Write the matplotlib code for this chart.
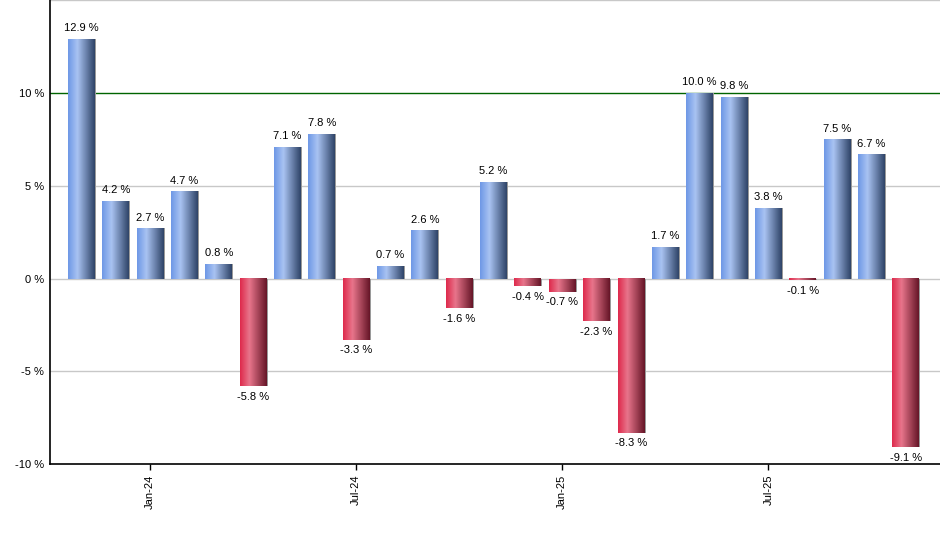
import numpy as np
import matplotlib.pyplot as plt
from matplotlib.colors import LinearSegmentedColormap

months = ["Nov-23", "Dec-23", "Jan-24", "Feb-24", "Mar-24", "Apr-24", "May-24", "Jun-24",
          "Jul-24", "Aug-24", "Sep-24", "Oct-24", "Nov-24", "Dec-24", "Jan-25", "Feb-25",
          "Mar-25", "Apr-25", "May-25", "Jun-25", "Jul-25", "Aug-25", "Sep-25", "Oct-25",
          "Nov-25"]
returns = [12.9, 4.2, 2.7, 4.7, 0.8, -5.8, 7.1, 7.8, -3.3, 0.7, 2.6, -1.6, 5.2,
           -0.4, -0.7, -2.3, -8.3, 1.7, 10.0, 9.8, 3.8, -0.1, 7.5, 6.7, -9.1]
tick_months = ["Jan-24", "Jul-24", "Jan-25", "Jul-25"]

blue_cmap = LinearSegmentedColormap.from_list(
    "blue", [(0, "#6e98e6"), (0.35, "#a9c3f2"), (1, "#2f4468")])
red_cmap = LinearSegmentedColormap.from_list(
    "red", [(0, "#de2a4c"), (0.35, "#e8758b"), (1, "#661628")])

plt.rcParams["font.family"] = ["Liberation Sans", "DejaVu Sans"]

fig = plt.figure(figsize=(9.4, 5.5), dpi=100)
ax = fig.add_axes([0.053, 0.156, 0.947, 0.844])

x = np.arange(len(returns))
width = 0.78
grad = np.linspace(0, 1, 64).reshape(1, -1)

ax.set_xlim(-0.92, len(returns))
ax.set_ylim(-10, 15)

for xi, v in zip(x, returns):
    cmap = blue_cmap if v >= 0 else red_cmap
    # soft shadow on the right edge
    ax.bar(xi + 0.035, v, width=width, color="#9a9a9a", zorder=2)
    ax.imshow(grad, cmap=cmap, aspect="auto", interpolation="bilinear",
              extent=(xi - width / 2, xi + width / 2, 0, v), zorder=3)
    if v >= 0:
        ax.annotate(f"{v:.1f} %", (xi, v), xytext=(0, 4), textcoords="offset points",
                    ha="center", va="bottom", fontsize=8)
    else:
        ax.annotate(f"{v:.1f} %", (xi, v), xytext=(0, -4), textcoords="offset points",
                    ha="center", va="top", fontsize=8)

ax.set_xlim(-0.92, len(returns))
ax.set_ylim(-10, 15)

for gy in [-5, 0, 5, 15]:
    ax.axhline(gy, color="#c8c8c8", lw=1, zorder=1)
ax.axhline(10, color="#006400", lw=1, zorder=1)

ax.set_yticks([-10, -5, 0, 5, 10])
ax.set_yticklabels([f"{t} %" for t in [-10, -5, 0, 5, 10]], fontsize=8)
ax.set_xticks([months.index(m) for m in tick_months])
ax.set_xticklabels(tick_months, rotation=90, fontsize=8)
ax.tick_params(axis="y", length=0, pad=4)
ax.tick_params(axis="x", length=4, width=1)

for side in ["top", "right"]:
    ax.spines[side].set_visible(False)
ax.spines["left"].set_linewidth(1.2)
ax.spines["bottom"].set_linewidth(1.2)

fig.savefig("out.png", dpi=100)
